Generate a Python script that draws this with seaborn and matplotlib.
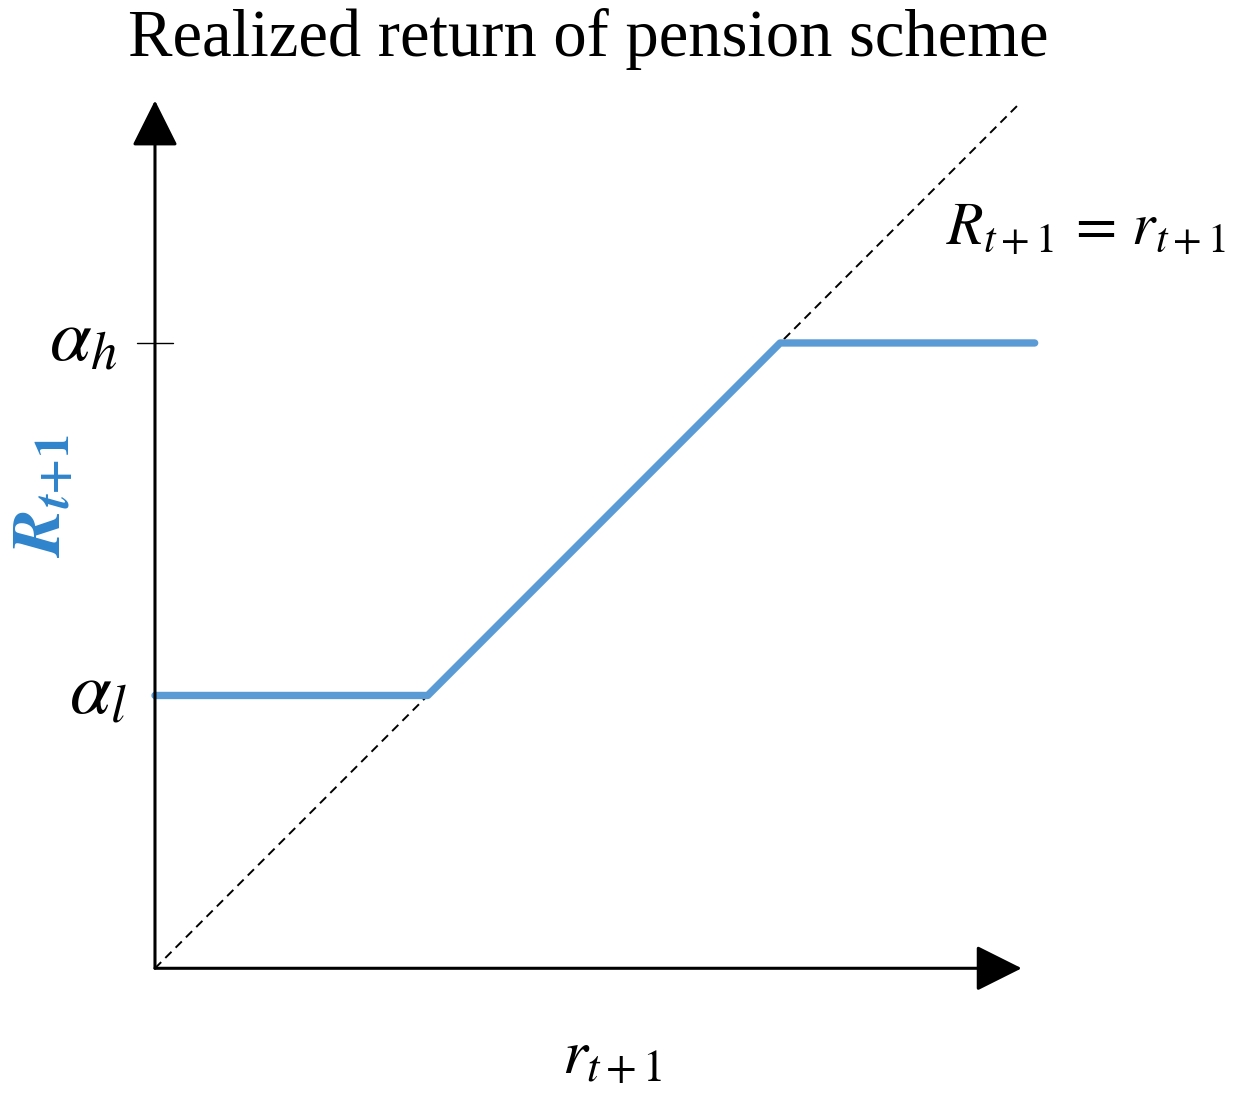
import seaborn as sns
import matplotlib.pyplot as plt
import pandas as pd

# Valeurs du schéma (rendement garanti plancher / plafond)
alpha_l = 0.315
alpha_h = 0.722
r_pts = [0.0, alpha_l, alpha_h, 1.016]
R_pts = [alpha_l, alpha_l, alpha_h, alpha_h]
diag_x = [0.0, 1.0]
diag_y = [0.0, 1.0]

sns.set_style("white")
plt.rcParams["mathtext.fontset"] = "stix"
plt.rcParams["font.family"] = ["Liberation Serif", "DejaVu Serif"]
plt.rcParams["text.color"] = "black"

fig = plt.figure(figsize=(12.52, 10.93), dpi=100)
ax = fig.add_axes([0, 0, 1, 1])
ax.set_xlim(-0.179, 1.267)
ax.set_ylim(-0.144, 1.118)
ax.axis("off")

blue = "#5B9BD5"
df = pd.DataFrame({"r": r_pts, "R": R_pts})
sns.lineplot(data=df, x="r", y="R", sort=False, estimator=None,
             color=blue, linewidth=5.3, ax=ax, zorder=3)
sns.lineplot(x=diag_x, y=diag_y, sort=False, estimator=None,
             color="black", linewidth=1.4, linestyle=(0, (4.5, 3)), ax=ax, zorder=2)

# axes avec flèches
arrow = dict(arrowstyle="-|>,head_length=0.4,head_width=0.2", mutation_scale=72,
             color="black", linewidth=2.2, shrinkA=0, shrinkB=0)
ax.annotate("", xy=(0, 1.002), xytext=(0, 0), arrowprops=arrow)
ax.annotate("", xy=(1.001, 0), xytext=(0, 0), arrowprops=arrow)
ax.plot([-0.021, 0.021], [alpha_h, alpha_h], color="black", linewidth=1)

ax.text(-0.043, alpha_h, r"$\alpha_h$", ha="right", va="center", fontsize=54)
ax.text(-0.032, alpha_l, r"$\alpha_l$", ha="right", va="center", fontsize=54)
ax.text(-0.128, 0.546, r"$\mathbfit{R}_{\mathbfit{t}\mathbf{+1}}$", color="#2E84CC",
        rotation=90, ha="center", va="center", fontsize=50)
ax.text(0.528, -0.122, r"$r_{t+1}$", ha="center", va="baseline", fontsize=46)
ax.text(0.914, 0.852, r"$R_{t+1}\,=\,r_{t+1}$", ha="left", va="center", fontsize=43)
ax.text(0.5, 1.073, "Realized return of pension scheme", ha="center", va="center",
        fontsize=48)

plt.savefig("out.png", dpi=100)
